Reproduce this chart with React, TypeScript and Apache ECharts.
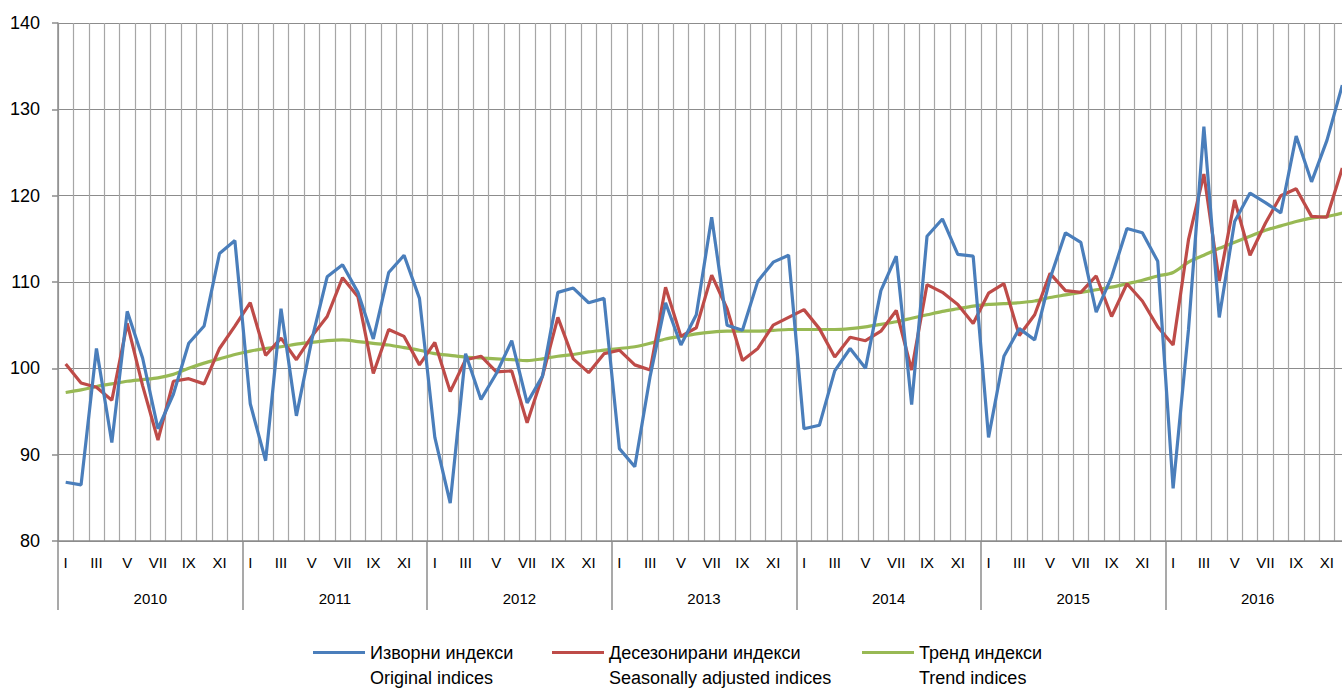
import React, { useEffect, useRef } from 'react';
import * as echarts from 'echarts';

const years = ['2010', '2011', '2012', '2013', '2014', '2015', '2016'];
const romanMonths = ['I', 'II', 'III', 'IV', 'V', 'VI', 'VII', 'VIII', 'IX', 'X', 'XI', 'XII'];

const seriesNames = [
  'Изворни индекси\nOriginal indices',
  'Десезонирани индекси\nSeasonally adjusted indices',
  'Тренд индекси\nTrend indices',
];

const original = [
  86.8, 86.5, 102.3, 91.4, 106.6, 101.2, 93.0, 97.0, 102.9, 104.9, 113.3, 114.8,
  95.9, 89.3, 106.9, 94.5, 103.3, 110.6, 112.0, 108.8, 103.4, 111.1, 113.1, 108.1,
  92.0, 84.4, 101.7, 96.4, 99.4, 103.2, 96.0, 99.1, 108.8, 109.3, 107.6, 108.1,
  90.7, 88.6, 99.1, 107.6, 102.7, 106.2, 117.5, 105.0, 104.4, 110.1, 112.3, 113.1,
  93.0, 93.4, 99.7, 102.3, 100.0, 109.0, 113.0, 95.8, 115.3, 117.3, 113.2, 113.0,
  92.0, 101.4, 104.6, 103.3, 110.4, 115.7, 114.6, 106.5, 110.6, 116.2, 115.7, 112.4,
  86.1, 104.5, 128.0, 105.9, 117.0, 120.3, 119.2, 118.0, 126.9, 121.6, 126.4, 132.8,
];

const seasonallyAdjusted = [
  100.5, 98.3, 97.8, 96.3, 105.2, 98.0, 91.7, 98.5, 98.8, 98.2, 102.3, 104.9,
  107.6, 101.5, 103.5, 101.0, 103.7, 106.0, 110.5, 108.3, 99.4, 104.5, 103.7, 100.4,
  103.0, 97.3, 101.0, 101.4, 99.6, 99.7, 93.7, 99.1, 105.9, 101.1, 99.5, 101.7,
  102.1, 100.4, 99.8, 109.4, 103.7, 104.7, 110.8, 106.9, 100.9, 102.3, 105.0, 105.9,
  106.8, 104.6, 101.3, 103.6, 103.2, 104.3, 106.7, 99.8, 109.7, 108.8, 107.4, 105.2,
  108.7, 109.8, 103.8, 106.2, 111.0, 109.0, 108.8, 110.7, 106.0, 109.8, 107.8, 104.8,
  102.7, 114.9, 122.5, 110.1, 119.5, 113.1, 116.8, 120.0, 120.8, 117.6, 117.5, 123.2,
];

const trend = [
  97.2, 97.5, 97.9, 98.2, 98.5, 98.7, 98.9, 99.3, 100.0, 100.6, 101.1, 101.6,
  102.0, 102.3, 102.5, 102.8, 103.0, 103.2, 103.3, 103.1, 102.9, 102.7, 102.4, 102.1,
  101.7, 101.5, 101.3, 101.2, 101.1, 101.0, 100.9, 101.1, 101.4, 101.6, 101.9, 102.1,
  102.3, 102.5, 102.9, 103.4, 103.7, 104.0, 104.2, 104.3, 104.3, 104.3, 104.4, 104.5,
  104.5, 104.5, 104.5, 104.6, 104.8, 105.1, 105.4, 105.8, 106.2, 106.6, 106.9, 107.2,
  107.4, 107.5, 107.6, 107.8, 108.2, 108.5, 108.8, 109.1, 109.4, 109.8, 110.2, 110.7,
  111.1, 112.3, 113.1, 113.9, 114.6, 115.3, 116.0, 116.5, 117.0, 117.4, 117.6, 118.0,
];

const colors = ['#4A7EBB', '#BE4B48', '#98B954'];

const months: string[] = [];
years.forEach((y) => romanMonths.forEach((m) => months.push(m + '|' + y)));

export default function App() {
  const ref = useRef<HTMLDivElement>(null);
  useEffect(() => {
    if (!ref.current) return;
    const chart = echarts.init(ref.current, undefined, { renderer: 'svg' });
    const font = 'Liberation Sans, Arial, sans-serif';
    const legendLefts = [308, 547, 857];
    chart.setOption({
      animation: false,
      backgroundColor: '#ffffff',
      grid: { left: 58, top: 23, right: 0, height: 518, containLabel: false },
      legend: seriesNames.map((n, i) => ({
        data: [n],
        left: legendLefts[i],
        top: 610,
        icon: 'rect',
        itemWidth: 52,
        itemHeight: 3,
        selectedMode: false,
        formatter: (name: string) => '\n' + name,
        textStyle: {
          fontFamily: font,
          fontSize: 18,
          lineHeight: 25,
          color: '#000',
        },
      })),
      xAxis: [
        {
          type: 'category',
          data: months,
          boundaryGap: true,
          axisLine: { show: true, lineStyle: { color: '#8c8c8c', width: 1.5 } },
          axisTick: { show: false },
          axisLabel: {
            interval: 1,
            margin: 14,
            fontFamily: font,
            fontSize: 15,
            color: '#000',
            formatter: (v: string) => v.split('|')[0],
          },
          splitLine: { show: true, interval: 0, lineStyle: { color: '#a6a6a6', width: 1.2 } },
        },
        {
          type: 'category',
          data: years,
          position: 'bottom',
          boundaryGap: true,
          axisLine: { show: false },
          axisTick: { show: true, length: 69, interval: 0, lineStyle: { color: '#8c8c8c', width: 1.5 } },
          axisLabel: { margin: 50, fontFamily: font, fontSize: 15, color: '#000' },
          splitLine: { show: false },
        },
      ],
      yAxis: {
        type: 'value',
        min: 80,
        max: 140,
        interval: 10,
        axisLine: { show: true, lineStyle: { color: '#8c8c8c', width: 1.5 } },
        axisTick: { show: true, length: 6, lineStyle: { color: '#8c8c8c', width: 1.5 } },
        axisLabel: { margin: 18, fontFamily: font, fontSize: 18, color: '#000' },
        splitLine: { show: true, lineStyle: { color: '#8c8c8c', width: 1.2 } },
      },
      series: [original, seasonallyAdjusted, trend].map((d, i) => ({
        name: seriesNames[i],
        type: 'line',
        data: d,
        xAxisIndex: 0,
        symbol: 'none',
        smooth: i === 2 ? 0.3 : false,
        lineStyle: { color: colors[i], width: 3.2 },
        itemStyle: { color: colors[i] },
        z: 3 - i,
      })),
    });
    return () => chart.dispose();
  }, []);
  return (
    <div style={{ position: 'fixed', left: 0, top: 0, width: 1342, height: 688, overflow: 'hidden', background: '#fff' }}>
      <div ref={ref} style={{ width: 1350, height: 688 }} />
    </div>
  );
}
